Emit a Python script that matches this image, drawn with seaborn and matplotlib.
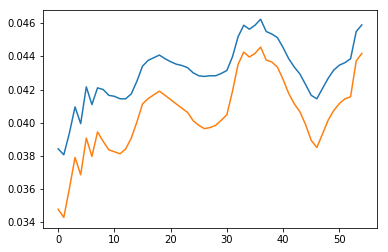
import matplotlib
matplotlib.use("Agg")
import matplotlib.pyplot as plt
import seaborn as sns
import numpy as np
import pandas as pd

x = list(range(55))
blue = [0.03842, 0.03806, 0.03938, 0.04095, 0.03994, 0.04216, 0.04109, 0.04210, 0.04200, 0.04165,
        0.04159, 0.04144, 0.04144, 0.04174, 0.04250, 0.04341, 0.04376, 0.04392, 0.04408, 0.04386,
        0.04368, 0.04353, 0.04345, 0.04332, 0.04301, 0.04283, 0.04279, 0.04283, 0.04283, 0.04297,
        0.04315, 0.04398, 0.04519, 0.04588, 0.04564, 0.04588, 0.04624, 0.04550, 0.04535, 0.04513,
        0.04453, 0.04386, 0.04335, 0.04293, 0.04230, 0.04165, 0.04144, 0.04206, 0.04267, 0.04317,
        0.04347, 0.04362, 0.04386, 0.04550, 0.04590]
orange = [0.03477, 0.03428, 0.03604, 0.03790, 0.03685, 0.03907, 0.03796, 0.03944, 0.03887, 0.03836,
          0.03824, 0.03812, 0.03841, 0.03907, 0.04004, 0.04113, 0.04145, 0.04168, 0.04190, 0.04165,
          0.04139, 0.04113, 0.04087, 0.04062, 0.04012, 0.03984, 0.03964, 0.03970, 0.03984, 0.04014,
          0.04048, 0.04190, 0.04352, 0.04426, 0.04396, 0.04418, 0.04456, 0.04378, 0.04366, 0.04335,
          0.04261, 0.04176, 0.04113, 0.04065, 0.03988, 0.03893, 0.03850, 0.03931, 0.04014, 0.04073,
          0.04115, 0.04144, 0.04156, 0.04372, 0.04418]

fig = plt.figure(figsize=(388/72, 252/72), dpi=72)
ax = fig.add_axes([43/388, 1-228/252, (377-43)/388, (228-10)/252])
sns.lineplot(x=x, y=blue, ax=ax, color="#1f77b4", linewidth=1.5)
sns.lineplot(x=x, y=orange, ax=ax, color="#ff7f0e", linewidth=1.5)
ax.set_xlim(-2.7, 56.7)
ax.set_ylim(0.03364, 0.0468)
ax.set_xticks([0, 10, 20, 30, 40, 50])
ax.set_yticks([0.034, 0.036, 0.038, 0.040, 0.042, 0.044, 0.046])
ax.set_yticklabels(["0.034", "0.036", "0.038", "0.040", "0.042", "0.044", "0.046"])
ax.tick_params(labelsize=10)
fig.savefig("out.png", dpi=72)
